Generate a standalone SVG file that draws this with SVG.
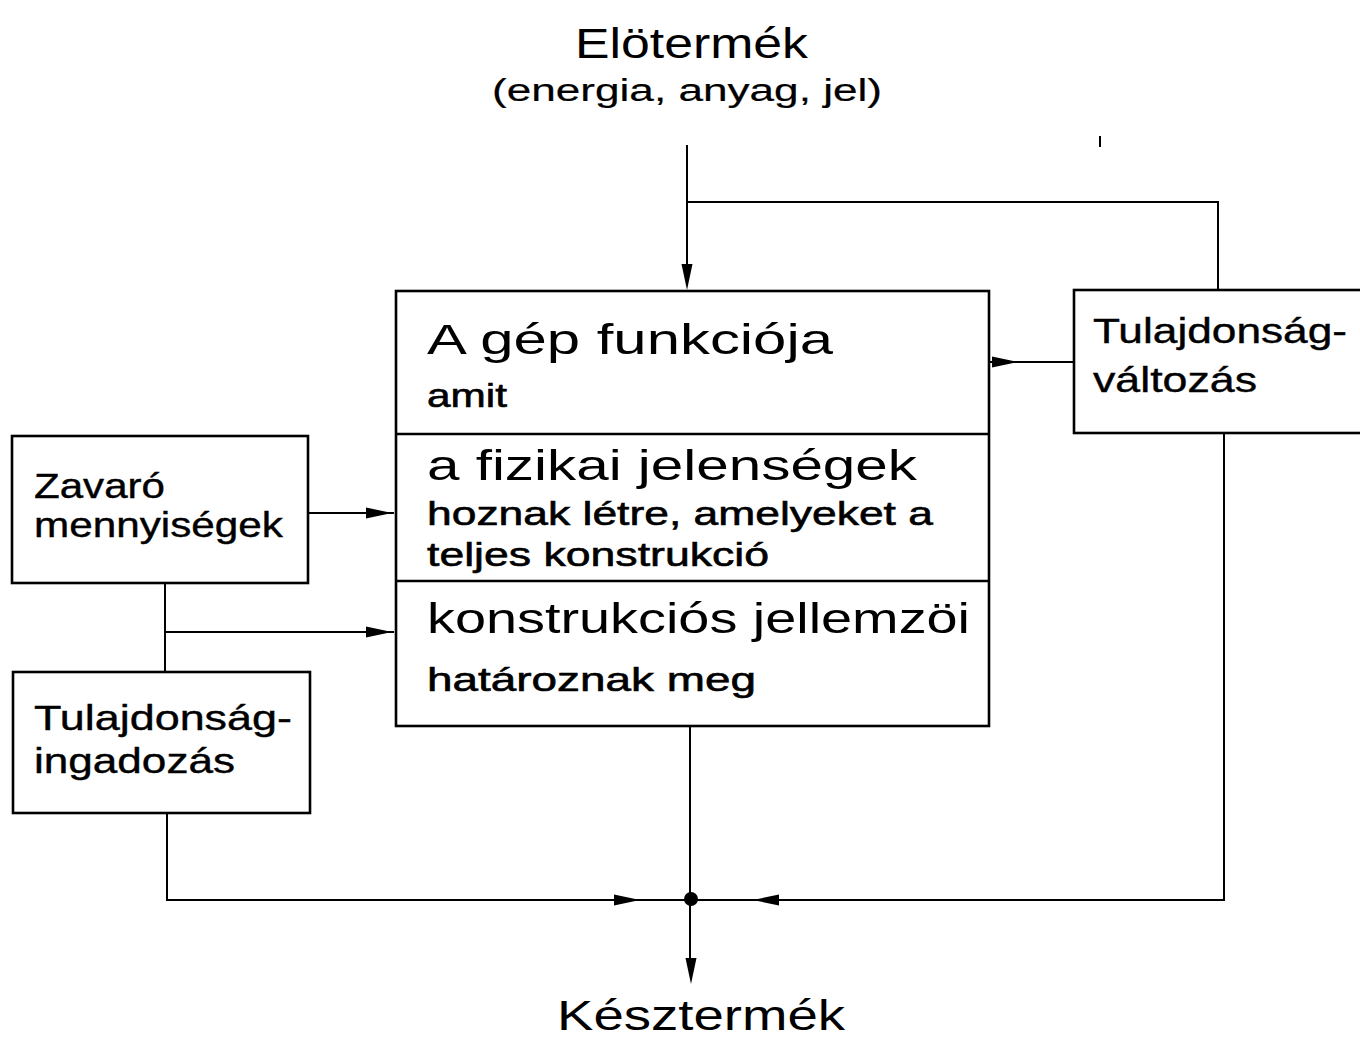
<svg xmlns="http://www.w3.org/2000/svg" width="1360" height="1041" viewBox="0 0 1360 1041">
<style>
.box{fill:none;stroke:#000;stroke-width:2.6}
.ln{fill:none;stroke:#000;stroke-width:2}
.big{font-family:"Liberation Sans",Arial,sans-serif;font-size:43px;fill:#000}
.mid{font-family:"Liberation Sans",Arial,sans-serif;font-size:34px;fill:#000;stroke:#000;stroke-width:0.6}
.lab{font-family:"Liberation Sans",Arial,sans-serif;font-size:35px;fill:#000;stroke:#000;stroke-width:0.4}
.ttl{font-family:"Liberation Sans",Arial,sans-serif;font-size:42px;fill:#000}
.sub{font-family:"Liberation Sans",Arial,sans-serif;font-size:31px;fill:#000;stroke:#000;stroke-width:0.2}
</style>
<defs>
<path id="ah" d="M0,0 L-26,-5.5 L-26,5.5 Z" fill="#000"/>
</defs>
<rect width="1360" height="1041" fill="#fff"/>

<g id="connectors">
<path class="ln" d="M687,145 V270"/>
<path class="ln" d="M687,202 H1218 V290"/>
<path class="ln" d="M989,362 H1074"/>
<path class="ln" d="M308,513 H394"/>
<path class="ln" d="M165,583 V672"/>
<path class="ln" d="M165,632 H394"/>
<path class="ln" d="M167,813 V900 H1224 V433"/>
<path class="ln" d="M690,727 V962"/>
<use href="#ah" transform="translate(687,290) rotate(90)"/>
<use href="#ah" transform="translate(392,513)"/>
<use href="#ah" transform="translate(392,632)"/>
<use href="#ah" transform="translate(1018,362)"/>
<use href="#ah" transform="translate(640,900)"/>
<use href="#ah" transform="translate(753,900) rotate(180)"/>
<use href="#ah" transform="translate(691,984) rotate(90)"/>
<circle cx="691" cy="899" r="7" fill="#000"/>
<path class="ln" d="M1100,136 V147"/>
</g>

<g id="input">
<text class="ttl" x="575" y="58" textLength="233" lengthAdjust="spacingAndGlyphs">Elötermék</text>
<text class="sub" x="492" y="101" textLength="390" lengthAdjust="spacingAndGlyphs">(energia, anyag, jel)</text>
</g>

<g id="main">
<rect class="box" x="396" y="291" width="593" height="435"/>
<path class="box" d="M396,434 H989 M396,581 H989"/>
<text class="big" x="427" y="354" textLength="406" lengthAdjust="spacingAndGlyphs">A gép funkciója</text>
<text class="mid" x="427" y="407" textLength="80" lengthAdjust="spacingAndGlyphs">amit</text>
<text class="big" x="427" y="480" textLength="490" lengthAdjust="spacingAndGlyphs">a fizikai jelenségek</text>
<text class="mid" x="427" y="525" textLength="506" lengthAdjust="spacingAndGlyphs">hoznak létre, amelyeket a</text>
<text class="mid" x="427" y="566" textLength="342" lengthAdjust="spacingAndGlyphs">teljes konstrukció</text>
<text class="big" x="427" y="633" textLength="543" lengthAdjust="spacingAndGlyphs">konstrukciós jellemzöi</text>
<text class="mid" x="427" y="691" textLength="329" lengthAdjust="spacingAndGlyphs">határoznak meg</text>
</g>

<g id="zavaro">
<rect class="box" x="12" y="436" width="296" height="147"/>
<text class="lab" x="34" y="498" textLength="131" lengthAdjust="spacingAndGlyphs">Zavaró</text>
<text class="lab" x="34" y="537" textLength="249" lengthAdjust="spacingAndGlyphs">mennyiségek</text>
</g>

<g id="ingadozas">
<rect class="box" x="13" y="672" width="297" height="141"/>
<text class="lab" x="34" y="730" textLength="258" lengthAdjust="spacingAndGlyphs">Tulajdonság-</text>
<text class="lab" x="34" y="773" textLength="201" lengthAdjust="spacingAndGlyphs">ingadozás</text>
</g>

<g id="valtozas">
<rect class="box" x="1074" y="290" width="320" height="143"/>
<text class="lab" x="1093" y="343" textLength="254" lengthAdjust="spacingAndGlyphs">Tulajdonság-</text>
<text class="lab" x="1093" y="392" textLength="164" lengthAdjust="spacingAndGlyphs">változás</text>
</g>

<g id="output">
<text class="ttl" x="557" y="1030" textLength="288" lengthAdjust="spacingAndGlyphs">Késztermék</text>
</g>
</svg>
